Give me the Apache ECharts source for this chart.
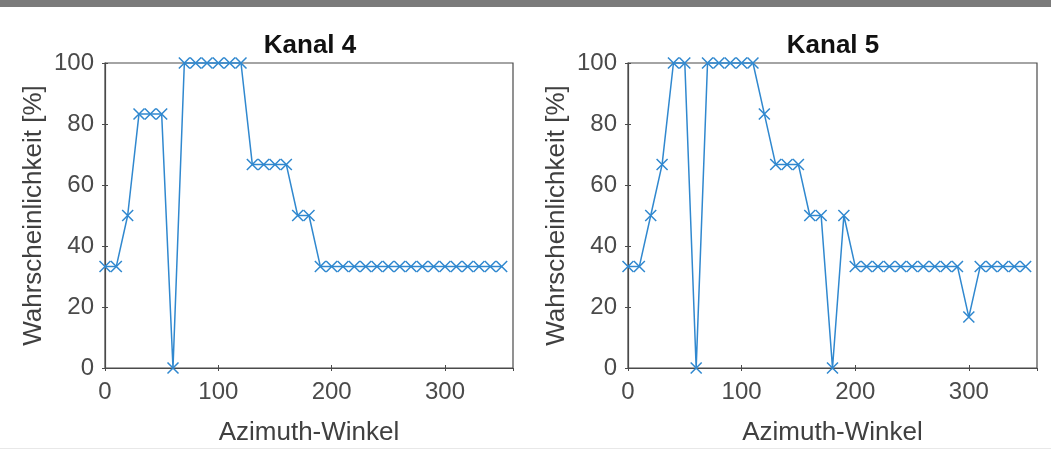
<!DOCTYPE html>
<html>
<head>
<meta charset="utf-8">
<script src="https://cdn.jsdelivr.net/npm/echarts@6/dist/echarts.min.js"></script>
<style>
html,body{margin:0;padding:0;background:#fff;}
#c{width:1051px;height:451px;}
</style>
</head>
<body>
<div id="c"></div>
<script>
const azimuth = [0,10,20,30,40,50,60,70,80,90,100,110,120,130,140,150,160,170,180,190,200,210,220,230,240,250,260,270,280,290,300,310,320,330,340,350];
const kanal4 = [33.3,33.3,50,83.3,83.3,83.3,0,100,100,100,100,100,100,66.7,66.7,66.7,66.7,50,50,33.3,33.3,33.3,33.3,33.3,33.3,33.3,33.3,33.3,33.3,33.3,33.3,33.3,33.3,33.3,33.3,33.3];
const kanal5 = [33.3,33.3,50,66.7,100,100,0,100,100,100,100,100,83.3,66.7,66.7,66.7,50,50,0,50,33.3,33.3,33.3,33.3,33.3,33.3,33.3,33.3,33.3,33.3,16.7,33.3,33.3,33.3,33.3,33.3];
const titles = ['Kanal 4','Kanal 5'];
const xName = 'Azimuth-Winkel';
const yName = 'Wahrscheinlichkeit [%]';
const xTicks = {min:0, max:360, interval:100};
const yTicks = {min:0, max:100, interval:20};

const FONT = '"Liberation Sans", Arial, Helvetica, sans-serif';
const LINE = '#3088cf';
const AX = '#4a4a4a';
const grids = [
  {left:105, right:1051-513, top:63, bottom:451-370, show:true, borderColor:AX, borderWidth:1.2, backgroundColor:'#fff'},
  {left:628, right:1051-1037, top:63, bottom:451-370, show:true, borderColor:AX, borderWidth:1.2, backgroundColor:'#fff'}
];
function mainX(i){
  return {type:'value', gridIndex:i, position:'bottom', min:xTicks.min, max:xTicks.max, interval:xTicks.interval,
    name:xName, nameLocation:'middle', nameGap:52,
    nameTextStyle:{fontFamily:FONT, fontSize:26, color:'#404040'},
    axisLine:{show:true, lineStyle:{color:AX, width:1.2}},
    axisTick:{show:true, inside:true, length:3, lineStyle:{color:AX}},
    axisLabel:{show:true, margin:12, fontFamily:FONT, fontSize:24, color:'#4a4a4a', showMaxLabel:false},
    splitLine:{show:false}};
}
function topX(i){
  return {type:'value', gridIndex:i, position:'top', min:xTicks.min, max:xTicks.max, interval:xTicks.interval,
    axisLine:{show:false}, axisTick:{show:true, inside:true, length:3, lineStyle:{color:AX}},
    axisLabel:{show:false}, splitLine:{show:false}};
}
function mainY(i){
  return {type:'value', gridIndex:i, position:'left', min:yTicks.min, max:yTicks.max, interval:yTicks.interval,
    name:yName, nameLocation:'middle', nameGap:58,
    nameTextStyle:{fontFamily:FONT, fontSize:26, color:'#404040'},
    axisLine:{show:true, lineStyle:{color:AX, width:1.2}},
    axisTick:{show:true, inside:true, length:3, lineStyle:{color:AX}},
    axisLabel:{show:true, margin:11, fontFamily:FONT, fontSize:24, color:'#4a4a4a'},
    splitLine:{show:false}};
}
function rightY(i){
  return {type:'value', gridIndex:i, position:'right', min:yTicks.min, max:yTicks.max, interval:yTicks.interval,
    axisLine:{show:false}, axisTick:{show:true, inside:true, length:3, lineStyle:{color:AX}},
    axisLabel:{show:false}, splitLine:{show:false}};
}
const xMark = 'path://M0,0L10,10M10,0L0,10';
function series(i, vals){
  return {type:'line', xAxisIndex:i, yAxisIndex:i,
    data: azimuth.map((a,k)=>[a, vals[k]]),
    symbol:xMark, symbolSize:11, showSymbol:true,
    lineStyle:{color:LINE, width:1.5},
    itemStyle:{color:'rgba(0,0,0,0)', borderColor:LINE, borderWidth:1.5},
    emphasis:{disabled:true}, animation:false, clip:false, z:5};
}
const chart = echarts.init(document.getElementById('c'), null, {renderer:'canvas'});
chart.setOption({
  backgroundColor:'#ffffff',
  animation:false,
  title:[
    {text:titles[0], left:305, top:28, textAlign:'center', textStyle:{fontFamily:FONT, fontSize:26, fontWeight:'bold', color:'#111'}},
    {text:titles[1], left:828, top:28, textAlign:'center', textStyle:{fontFamily:FONT, fontSize:26, fontWeight:'bold', color:'#111'}}
  ],
  grid:grids,
  xAxis:[mainX(0), mainX(1), topX(0), topX(1)],
  yAxis:[mainY(0), mainY(1), rightY(0), rightY(1)],
  series:[series(0,kanal4), series(1,kanal5)],
  graphic:[
    {type:'rect', shape:{x:0,y:0,width:1051,height:7}, style:{fill:'#7b7b7b'}, silent:true},
    {type:'rect', shape:{x:0,y:448,width:1051,height:1}, style:{fill:'#e8e8e8'}, silent:true}
  ]
});
</script>
</body>
</html>
